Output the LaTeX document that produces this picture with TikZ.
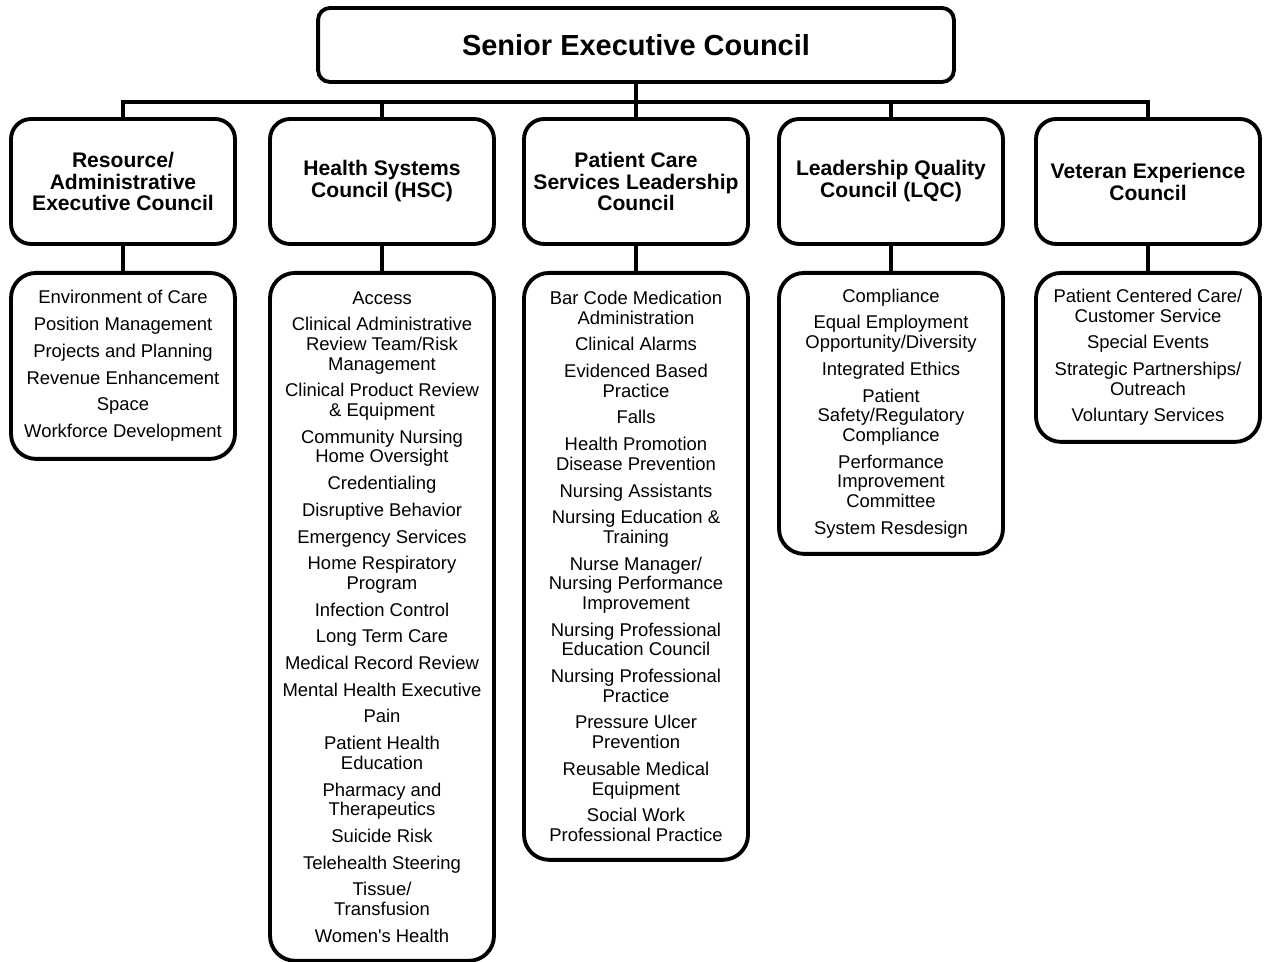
\documentclass[tikz,border=0pt]{standalone}
\usepackage{fontspec}
\setmainfont{Liberation Sans}
\tikzset{
  topbox/.style={draw, line width=2.2pt, rounded corners=0.24cm, minimum width=12.72cm, minimum height=1.48cm, font=\fontsize{16.5}{20}\selectfont\bfseries},
  council/.style={draw, line width=2.2pt, rounded corners=0.4cm, minimum width=4.48cm, minimum height=2.5cm, align=center, inner sep=1pt, font=\fontsize{12}{12.5}\selectfont\bfseries},
  groupbox/.style={draw, line width=2.2pt, rounded corners=0.5cm, minimum width=4.48cm, anchor=north, align=center, inner sep=1pt, font=\fontsize{10.5}{11.2}\selectfont},
  link/.style={line width=2.2pt}
}
\begin{document}
\begin{tikzpicture}[x=0.02cm, y=-0.02cm]
\useasboundingbox (0,0) rectangle (1264,962);

\node[topbox] (sec) at (636,45) {Senior Executive Council};

\node[council] (c1) at (123,181.5) {Resource/\\Administrative\\Executive Council};
\node[council] (c2) at (382,181.5) {Health Systems\\Council (HSC)};
\node[council] (c3) at (636,181.5) {Patient Care\\Services Leadership\\Council};
\node[council] (c4) at (891,181.5) {Leadership Quality\\Council (LQC)};
\node[council] (c5) at (1148,181.5) {Veteran Experience\\Council};

\node[groupbox, minimum height=3.72cm] (g1) at (123,271) {Environment of Care\\[4pt]Position Management\\[4pt]Projects and Planning\\[4pt]Revenue Enhancement\\[4pt]Space\\[4pt]Workforce Development};
\node[groupbox, minimum height=13.76cm] (g2) at (382,271) {Access\\[4pt]Clinical Administrative\\Review Team/Risk\\Management\\[4pt]Clinical Product Review\\\& Equipment\\[4pt]Community Nursing\\Home Oversight\\[4pt]Credentialing\\[4pt]Disruptive Behavior\\[4pt]Emergency Services\\[4pt]Home Respiratory\\Program\\[4pt]Infection Control\\[4pt]Long Term Care\\[4pt]Medical Record Review\\[4pt]Mental Health Executive\\[4pt]Pain\\[4pt]Patient Health\\Education\\[4pt]Pharmacy and\\Therapeutics\\[4pt]Suicide Risk\\[4pt]Telehealth Steering\\[4pt]Tissue/\\Transfusion\\[4pt]Women\textquotesingle s Health};
\node[groupbox, minimum height=11.74cm] (g3) at (636,271) {Bar Code Medication\\Administration\\[4pt]Clinical Alarms\\[4pt]Evidenced Based\\Practice\\[4pt]Falls\\[4pt]Health Promotion\\Disease Prevention\\[4pt]Nursing Assistants\\[4pt]Nursing Education \&\\Training\\[4pt]Nurse Manager/\\Nursing Performance\\Improvement\\[4pt]Nursing Professional\\Education Council\\[4pt]Nursing Professional\\Practice\\[4pt]Pressure Ulcer\\Prevention\\[4pt]Reusable Medical\\Equipment\\[4pt]Social Work\\Professional Practice};
\node[groupbox, minimum height=5.62cm] (g4) at (891,271) {Compliance\\[4pt]Equal Employment\\Opportunity/Diversity\\[4pt]Integrated Ethics\\[4pt]Patient\\Safety/Regulatory\\Compliance\\[4pt]Performance\\Improvement\\Committee\\[4pt]System Resdesign};
\node[groupbox, minimum height=3.38cm] (g5) at (1148,271) {Patient Centered Care/\\Customer Service\\[4pt]Special Events\\[4pt]Strategic Partnerships/\\Outreach\\[4pt]Voluntary Services};

% bus between the top box and the councils
\coordinate (bus) at (636,102);
\draw[link] (sec.south) -- (c3.north);
\draw[link] (c1.north) |- (bus) -| (c5.north);
\draw[link] (c2.north) -- (c2.north |- bus);
\draw[link] (c4.north) -- (c4.north |- bus);

\foreach \i in {1,...,5}
  \draw[link] (c\i.south) -- (g\i.north);
\end{tikzpicture}
\end{document}
